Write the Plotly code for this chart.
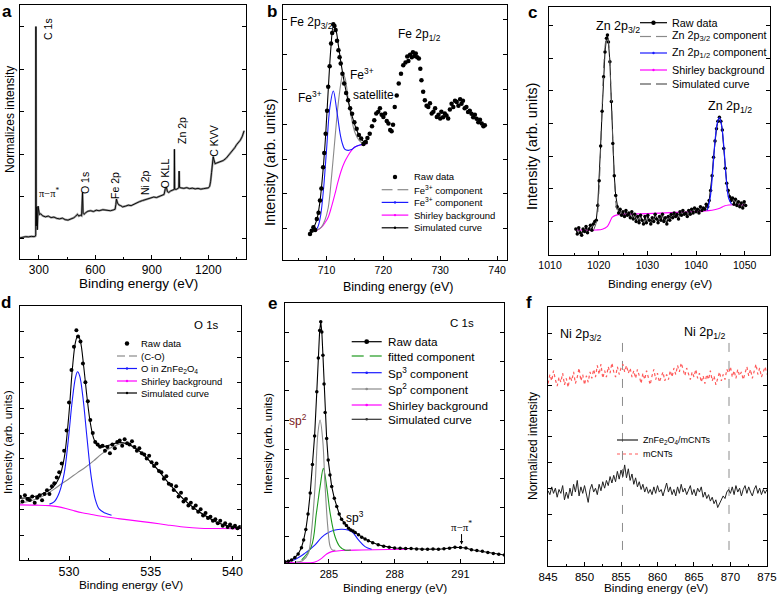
import plotly.graph_objects as go

W, H = 778, 601
FONT = "Liberation Sans, Arial, sans-serif"

# ---------------- (a) survey spectrum ----------------
a_ev = [200, 215, 230, 245, 260, 275, 282, 283.5, 284.5, 286, 289, 292, 296, 299, 303, 310, 320,
        335, 350, 365, 380, 395, 410, 425, 440, 455, 470, 485, 495, 505, 512, 520, 527, 530, 532,
        535, 540, 550, 560, 575, 590, 605, 620, 640, 660, 680, 695, 705, 709, 712, 718, 725, 735,
        745, 760, 775, 790, 805, 820, 835, 850, 865, 880, 895, 910, 925, 940, 955, 965, 972, 977,
        983, 990, 1000, 1010, 1017, 1019, 1020, 1021.5, 1030, 1038, 1043, 1045, 1047, 1055, 1070,
        1085, 1100, 1115, 1130, 1145, 1160, 1175, 1190, 1200, 1207, 1212, 1217, 1222, 1226, 1230,
        1236, 1245, 1255, 1265, 1280, 1295, 1310, 1325, 1340, 1350, 1360, 1370, 1380, 1390]
a_int = [8.3, 8.6, 8.8, 8.7, 8.9, 8.8, 9.0, 9.5, 91.5, 13.0, 20.5, 11.5, 20.8, 19.5, 17.5, 17.8, 17.0,
         16.6, 16.9, 16.3, 16.5, 16.0, 15.8, 16.1, 15.5, 15.3, 15.6, 16.2, 16.8, 17.6, 16.9, 17.2, 17.0,
         22.0, 26.2, 18.0, 17.6, 18.3, 18.8, 19.0, 18.7, 19.2, 19.0, 19.4, 19.1, 19.0, 19.3, 19.6, 21.5,
         23.6, 22.0, 21.3, 21.0, 20.5, 20.8, 21.2, 21.0, 21.6, 22.0, 22.6, 23.0, 23.4, 23.6, 24.2, 24.4,
         24.2, 24.6, 24.9, 25.4, 27.8, 28.3, 26.5, 26.2, 26.8, 27.0, 27.2, 27.4, 43.2, 27.5, 27.4, 27.6,
         28.0, 34.6, 28.2, 28.0, 27.8, 28.1, 27.7, 27.9, 27.6, 27.8, 27.5, 27.7, 27.9, 28.0, 28.6, 30.5,
         34.0, 38.5, 40.3, 39.0, 37.5, 37.8, 38.0, 38.3, 38.8, 39.7, 41.0, 42.3, 43.8, 45.0, 45.8, 46.8,
         48.2, 50.5]

# ---------------- (b) Fe 2p ----------------
b_raw_ev = [707.1, 707.4, 707.7, 708.0, 708.3, 708.6, 708.85, 709.1, 709.4, 709.6, 709.85, 710.1,
            710.3, 710.55, 710.8, 711.0, 711.2, 711.4, 711.6, 711.85, 712.1, 712.3, 712.5, 712.8,
            713.1, 713.45, 713.8, 714.15, 714.5, 714.9, 715.3, 715.7, 716.1, 716.5, 716.9, 717.2,
            717.6, 718.0, 718.4, 718.75, 719.1, 719.4, 719.7, 720.0, 720.3, 720.6, 720.9, 721.2,
            721.45, 721.7, 722.0, 722.35, 722.7, 723.1, 723.5, 723.9, 724.2, 724.4, 724.7, 725.0,
            725.2, 725.5, 725.7, 725.95, 726.25, 726.5, 726.7, 727.0, 727.3, 727.6, 727.9, 728.2,
            728.5, 728.8, 729.1, 729.4, 729.7, 730.0, 730.2, 730.5, 730.8, 731.1, 731.4, 731.7,
            732.0, 732.3, 732.6, 732.9, 733.2, 733.5, 733.75, 734.0, 734.3, 734.6, 734.9, 735.2,
            735.5, 735.8, 736.1, 736.4, 736.7, 737.0, 737.3, 737.6, 737.85]
b_raw_int = [10.2, 11.5, 12.8, 11.8, 16.1, 18.5, 23.3, 28.0, 36.4, 42.0, 49.5, 58.5,
             67.9, 76.0, 84.9, 89.0, 92.5, 91.8, 90.2, 86.0, 82.3, 79.5, 77.1, 73.0,
             69.2, 65.5, 62.6, 59.5, 57.4, 54.0, 51.5, 49.0, 47.6, 45.5, 46.3, 47.8,
             49.5, 52.5, 54.8, 57.5, 58.1, 59.5, 57.0, 56.1, 57.5, 54.5, 53.5, 51.0,
             50.5, 53.0, 60.0, 64.5, 69.2, 73.0, 76.4, 77.5, 79.8, 78.0, 80.5, 79.5,
             81.5, 80.0, 81.0, 79.5, 79.0, 75.0, 70.5, 66.0, 62.6, 60.5, 60.0, 61.5,
             57.5, 58.1, 59.5, 56.1, 57.0, 55.5, 58.1, 56.0, 57.5, 56.7, 55.5, 59.0,
             61.3, 60.0, 62.5, 62.0, 60.5, 63.0, 61.3, 62.5, 59.5, 60.0, 58.0, 58.5,
             57.4, 56.0, 57.0, 55.4, 54.0, 55.0, 53.5, 52.5, 52.8]
b_sim_ev = [707.1, 707.7, 708.3, 708.85, 709.4, 709.85, 710.3, 710.8, 711.2, 711.6, 712.1, 712.5,
            713.1, 713.8, 714.5, 715.3, 716.1, 716.9, 717.2]
b_sim_int = [10.5, 12.5, 15.8, 23.0, 35.5, 49.0, 66.5, 84.0, 91.5, 90.5, 84.0, 78.0,
             70.0, 62.5, 56.5, 51.0, 47.5, 45.8, 45.8]
b_fe3_ev = [707.4, 708.3, 708.85, 709.4, 710.0, 710.6, 711.2, 711.8, 712.4, 712.8, 713.2, 713.8,
            714.4, 715.0, 716.0, 717.0]
b_fe3_int = [11.5, 12.3, 16.0, 26.0, 43.0, 60.0, 66.3, 58.7, 49.5, 45.6, 43.5, 43.0,
             43.3, 44.3, 45.2, 45.6]
b_sat_ev = [707.4, 708.3, 709.1, 709.7, 710.3, 710.9, 711.5, 712.0, 712.5, 712.9, 713.3, 713.8,
            714.4, 715.0, 715.7, 716.4, 717.2]
b_sat_int = [11.5, 11.8, 12.9, 15.5, 20.5, 33.0, 48.0, 60.0, 69.0, 73.1, 71.0, 63.5,
             55.5, 50.0, 47.0, 45.8, 45.6]
b_bg_ev = [707.4, 708.3, 709.1, 709.7, 710.3, 710.9, 711.5, 712.0, 712.6, 713.2, 713.8, 714.4,
           715.0, 715.8, 716.5, 717.2]
b_bg_int = [11.5, 11.7, 12.8, 14.5, 16.8, 21.0, 26.0, 30.5, 35.1, 38.5, 41.0, 43.0,
            44.3, 45.0, 45.4, 45.6]

# ---------------- (c) Zn 2p ----------------
c_raw_ev = [1015.3, 1015.6, 1015.9, 1016.2, 1016.5, 1016.8, 1017.1, 1017.4, 1017.7, 1018.0, 1018.3,
            1018.6, 1018.9, 1019.2, 1019.5, 1019.8, 1020.1, 1020.4, 1020.7, 1021.0, 1021.3, 1021.6,
            1021.8, 1022.0, 1022.3, 1022.6, 1022.9, 1023.2, 1023.5, 1023.8, 1024.1, 1024.4, 1024.7,
            1025.0, 1025.3, 1025.6, 1025.9, 1026.2, 1026.5, 1026.8, 1027.1, 1027.4, 1027.7, 1028.0,
            1028.3, 1028.6, 1028.9, 1029.2, 1029.5, 1029.8, 1030.1, 1030.4, 1030.7, 1031.0, 1031.3,
            1031.6, 1031.9, 1032.2, 1032.5, 1032.8, 1033.1, 1033.4, 1033.7, 1034.0, 1034.3, 1034.6,
            1034.9, 1035.2, 1035.5, 1035.8, 1036.1, 1036.4, 1036.7, 1037.0, 1037.3, 1037.6, 1037.9,
            1038.2, 1038.5, 1038.8, 1039.1, 1039.4, 1039.7, 1040.0, 1040.3, 1040.6, 1040.9, 1041.2,
            1041.5, 1041.8, 1042.1, 1042.4, 1042.7, 1043.0, 1043.3, 1043.6, 1043.9, 1044.2, 1044.5,
            1044.8, 1045.1, 1045.4, 1045.7, 1046.0, 1046.3, 1046.6, 1046.9, 1047.2, 1047.5, 1047.8,
            1048.1, 1048.4, 1048.7, 1049.0, 1049.3, 1049.6, 1049.9, 1050.2]
c_raw_int = [10.5, 8.5, 11.0, 9.0, 8.0, 10.5, 9.5, 11.5, 9.0, 10.5, 12.0,
             10.0, 12.5, 13.5, 14.0, 20.0, 30.0, 44.0, 58.0, 72.0, 82.0, 87.5,
             88.8, 86.0, 78.0, 62.0, 45.0, 32.0, 24.0, 19.5, 17.0, 18.5, 16.0,
             17.5, 15.5, 18.0, 16.0, 17.0, 15.0, 17.5, 14.5, 16.5, 13.5, 15.5,
             13.0, 16.0, 14.0, 12.5, 15.5, 13.0, 16.0, 14.0, 12.5, 15.0, 13.5,
             16.5, 14.5, 13.0, 15.5, 14.0, 16.5, 13.5, 15.0, 12.5, 15.5, 14.0,
             16.5, 15.0, 17.0, 15.5, 16.5, 14.5, 17.5, 16.0, 18.0, 16.5, 17.0,
             15.5, 18.0, 16.5, 18.5, 17.0, 19.0, 17.5, 18.5, 17.0, 19.5, 18.0,
             19.0, 18.5, 20.5, 19.5, 22.0, 26.0, 32.0, 39.5, 46.0, 51.0, 54.0,
             55.6, 54.0, 50.5, 43.0, 35.0, 29.0, 26.0, 23.5, 22.0, 23.0, 20.5,
             22.5, 20.0, 21.5, 19.5, 21.0, 19.0, 21.5, 20.0]
c_p32_ev = [1019.0, 1019.6, 1020.1, 1020.6, 1021.1, 1021.5, 1021.8, 1022.1, 1022.5, 1022.9, 1023.3,
            1023.8, 1024.4]
c_p32_int = [10.3, 14.0, 28.0, 54.0, 78.0, 87.0, 88.5, 84.0, 68.0, 46.0, 28.0, 18.0, 16.0]
c_p12_ev = [1042.3, 1042.9, 1043.4, 1043.9, 1044.4, 1044.8, 1045.2, 1045.7, 1046.2, 1046.7, 1047.3]
c_p12_int = [18.0, 23.0, 33.0, 46.0, 53.5, 55.5, 53.0, 44.0, 31.0, 23.0, 20.5]
c_bg_ev = [1015.3, 1019.5, 1020.75, 1021.8, 1022.4, 1022.8, 1023.8, 1030.0, 1036.0, 1042.6, 1044.0,
           1045.0, 1045.8, 1046.7, 1050.1]
c_bg_int = [10.1, 10.1, 10.4, 11.6, 13.8, 15.3, 16.2, 16.7, 17.2, 17.9, 18.4, 19.0, 19.8, 20.2, 20.2]

# ---------------- (d) O 1s ----------------
d_raw_ev = [527.0, 527.15, 527.3, 527.45, 527.6, 527.75, 527.9, 528.05, 528.2, 528.35, 528.5, 528.65,
            528.8, 528.95, 529.1, 529.25, 529.4, 529.55, 529.7, 529.85, 530.0, 530.15, 530.3, 530.45,
            530.55, 530.7, 530.85, 531.0, 531.15, 531.3, 531.45, 531.6, 531.75, 531.9, 532.05, 532.2,
            532.35, 532.5, 532.65, 532.8, 532.95, 533.1, 533.25, 533.4, 533.55, 533.7, 533.85, 534.0,
            534.15, 534.3, 534.45, 534.6, 534.75, 534.9, 535.05, 535.2, 535.35, 535.5, 535.65, 535.8,
            535.95, 536.1, 536.25, 536.4, 536.55, 536.7, 536.85, 537.0, 537.15, 537.3, 537.45, 537.6,
            537.75, 537.9, 538.05, 538.2, 538.35, 538.5, 538.65, 538.8, 538.95, 539.1, 539.25, 539.4,
            539.55, 539.7, 539.85, 540.0, 540.15, 540.3, 540.45]
d_raw_int = [24.9, 23.0, 25.5, 24.0, 23.6, 25.0, 22.5, 24.5, 25.5, 23.5, 26.0, 27.5,
             26.0, 29.0, 30.2, 32.5, 34.5, 38.0, 43.0, 51.0, 62.0, 74.8, 84.0, 90.5,
             88.0, 86.0, 77.4, 70.0, 62.5, 55.1, 50.0, 46.5, 45.5, 44.6, 45.0, 43.0,
             44.5, 42.0, 45.5, 44.0, 46.5, 47.0, 45.0, 47.5, 46.0, 45.5, 46.8, 44.5,
             43.0, 44.0, 42.0, 41.5, 40.0, 41.0, 38.5, 37.0, 38.0, 35.0, 34.5, 32.0,
             33.0, 30.0, 29.5, 27.6, 29.0, 25.0, 26.5, 23.0, 24.0, 21.5, 22.5, 20.5,
             21.5, 19.0, 20.0, 17.5, 18.5, 16.5, 17.0, 15.5, 16.0, 14.5, 15.5, 13.5,
             14.5, 13.0, 14.0, 12.8, 13.5, 12.5, 13.0]
d_sim_ev = [527.0, 527.5, 528.0, 528.5, 529.0, 529.4, 529.7, 530.0, 530.2, 530.4, 530.55, 530.7,
            530.9, 531.1, 531.3, 531.5, 531.7, 531.9, 532.1, 532.5, 533.0, 533.5, 534.0, 534.5,
            535.0, 535.5, 536.0, 536.5, 537.0, 537.5, 538.0, 538.5, 539.0, 539.5, 540.0, 540.5]
d_sim_int = [24.3, 24.6, 25.2, 26.5, 28.5, 32.5, 40.0, 58.0, 75.0, 86.0, 88.5, 86.0,
             76.0, 64.0, 54.0, 48.0, 45.3, 44.5, 44.6, 45.3, 46.2, 45.9, 44.3, 41.8,
             38.5, 35.0, 31.0, 27.3, 24.0, 21.2, 18.8, 16.8, 15.0, 13.8, 13.0, 12.6]
d_co_ev = [527.0, 527.5, 528.0, 528.5, 529.0, 529.5, 530.0, 530.5, 531.0, 531.5, 532.0, 532.5,
           533.0, 533.3, 533.6, 534.0, 534.5, 535.0, 535.5, 536.0, 536.5, 537.0, 537.5, 538.0,
           538.5, 539.0, 539.5, 540.0, 540.5]
d_co_int = [22.3, 23.0, 24.0, 25.5, 27.5, 29.8, 32.0, 34.3, 36.5, 39.0, 41.8, 44.0,
            45.5, 45.9, 45.6, 44.3, 41.8, 38.5, 35.0, 31.0, 27.3, 24.0, 21.2, 18.8,
            16.8, 15.0, 13.8, 13.0, 12.6]
d_ozn_ev = [528.8, 529.1, 529.4, 529.7, 529.95, 530.2, 530.4, 530.52, 530.65, 530.85, 531.1, 531.35,
            531.6, 531.85, 532.2, 532.6]
d_ozn_int = [22.0, 23.0, 26.5, 34.0, 47.0, 63.0, 72.0, 74.1, 72.5, 64.0, 48.0, 33.0,
             24.0, 20.0, 18.5, 17.6]
d_bg_ev = [527.0, 528.0, 528.8, 529.3, 529.8, 530.3, 530.8, 531.3, 532.0, 533.0, 534.0, 535.0,
           536.0, 537.0, 538.0, 539.0, 540.5]
d_bg_int = [21.7, 21.6, 21.4, 21.0, 20.3, 19.4, 18.6, 18.0, 17.2, 16.3, 15.5, 14.7,
            13.8, 13.0, 12.5, 12.4, 12.3]

# ---------------- (e) C 1s ----------------
e_raw_ev = [283.0, 283.15, 283.3, 283.45, 283.6, 283.75, 283.85, 283.95, 284.05, 284.15, 284.25,
            284.35, 284.45, 284.52, 284.58, 284.63, 284.68, 284.73, 284.78, 284.83, 284.9, 284.97,
            285.05, 285.13, 285.25, 285.36, 285.47, 285.58, 285.7, 285.8, 285.9, 286.0, 286.1,
            286.2, 286.35, 286.5, 286.65, 286.8, 287.0, 287.25, 287.5, 287.75, 288.0, 288.25, 288.5,
            288.75, 289.0, 289.25, 289.5, 289.75, 290.0, 290.25, 290.5, 290.75, 291.0, 291.25,
            291.5, 291.75, 292.0, 292.25, 292.5, 292.75, 293.0]
e_raw_int = [0.6, 0.8, 1.3, 2.2, 3.6, 6.0, 9.0, 13.0, 19.0, 27.0, 38.0,
             49.0, 66.0, 79.0, 89.5, 92.9, 89.0, 80.0, 69.0, 58.0, 48.0, 39.7,
             34.0, 29.5, 25.0, 21.8, 19.0, 16.9, 15.5, 14.5, 13.5, 12.8, 12.4,
             11.8, 11.0, 10.0, 9.3, 8.7, 7.9, 7.1, 6.6, 6.2, 5.9, 5.8, 5.7,
             5.7, 5.5, 5.4, 5.4, 5.5, 5.4, 5.6, 5.8, 6.2, 6.1, 5.9,
             5.2, 4.9, 4.6, 4.2, 3.8, 3.5, 3.2]
e_sp2_ev = [283.5, 283.8, 284.06, 284.2, 284.37, 284.5, 284.6, 284.72, 284.83, 284.95, 285.06,
            285.16, 285.3]
e_sp2_int = [0.5, 1.0, 3.8, 11.5, 29.5, 50.0, 55.1, 47.4, 29.5, 14.1, 6.4, 5.1, 5.0]
e_fit_ev = [283.76, 284.2, 284.43, 284.6, 284.75, 284.9, 285.06, 285.28, 285.5, 285.73, 286.0]
e_fit_int = [1.3, 6.4, 19.2, 29.5, 36.5, 29.5, 19.2, 10.3, 6.4, 5.1, 5.1]
e_sp3_ev = [283.0, 283.46, 283.9, 284.37, 284.67, 284.9, 285.28, 285.61, 286.04, 286.35, 286.65,
            286.95]
e_sp3_int = [0.6, 1.5, 3.8, 7.1, 10.0, 11.5, 12.8, 13.1, 12.2, 9.0, 6.4, 5.4]
e_bg_ev = [283.0, 284.37, 284.67, 284.9, 285.13, 285.58, 286.5, 287.7, 288.6]
e_bg_int = [0.4, 0.5, 1.9, 3.6, 4.5, 4.9, 5.1, 5.3, 5.4]

# ---------------- (f) Ni 2p ----------------
f_ev = [845.0, 845.25, 845.5, 845.75, 846.0, 846.25, 846.5, 846.75, 847.0, 847.25, 847.5, 847.75,
        848.0, 848.25, 848.5, 848.75, 849.0, 849.25, 849.5, 849.75, 850.0, 850.25, 850.5, 850.75,
        851.0, 851.25, 851.5, 851.75, 852.0, 852.25, 852.5, 852.75, 853.0, 853.25, 853.5, 853.75,
        854.0, 854.25, 854.5, 854.75, 855.0, 855.25, 855.5, 855.75, 856.0, 856.25, 856.5, 856.75,
        857.0, 857.25, 857.5, 857.75, 858.0, 858.25, 858.5, 858.75, 859.0, 859.25, 859.5, 859.75,
        860.0, 860.25, 860.5, 860.75, 861.0, 861.25, 861.5, 861.75, 862.0, 862.25, 862.5, 862.75,
        863.0, 863.25, 863.5, 863.75, 864.0, 864.25, 864.5, 864.75, 865.0, 865.25, 865.5, 865.75,
        866.0, 866.25, 866.5, 866.75, 867.0, 867.25, 867.5, 867.75, 868.0, 868.25, 868.5, 868.75,
        869.0, 869.25, 869.5, 869.75, 870.0, 870.25, 870.5, 870.75, 871.0, 871.25, 871.5, 871.75,
        872.0, 872.25, 872.5, 872.75, 873.0, 873.25, 873.5, 873.75, 874.0, 874.25, 874.5, 874.75,
        875.0]
f_composite = [29.0, 27.5, 30.5, 28.0, 30.0, 26.5, 29.5, 28.0, 31.0, 25.5, 28.5, 26.0,
               30.0, 27.0, 31.5, 28.5, 33.0, 27.0, 30.5, 28.0, 31.0, 27.5, 24.5, 29.5,
               31.5, 28.5, 30.0, 27.5, 31.5, 29.0, 32.5, 30.0, 33.0, 31.0, 34.5, 32.0,
               35.0, 32.5, 36.5, 33.5, 37.0, 34.5, 39.0, 34.0, 37.5, 33.0, 35.5, 31.5,
               34.0, 30.5, 32.5, 29.5, 31.5, 28.5, 30.5, 28.0, 29.5, 27.5, 30.5, 28.0,
               31.0, 28.5, 29.5, 27.0, 30.0, 32.0, 28.5, 30.5, 27.5, 29.5, 27.0, 30.5,
               28.0, 31.5, 28.5, 30.0, 27.5, 29.0, 31.0, 27.5, 29.5, 27.0, 30.0, 28.5,
               30.5, 26.5, 28.5, 26.0, 27.5, 25.0, 26.5, 24.0, 25.5, 22.5, 24.0, 25.5,
               27.0, 26.0, 28.5, 29.5, 28.0, 30.5, 27.5, 31.0, 28.5, 30.0, 27.0, 29.5,
               31.0, 28.0, 30.5, 28.5, 27.0, 29.5, 31.0, 28.0, 30.0, 27.5, 29.5, 28.0,
               29.5]
f_mcnt = [70.5, 74.0, 71.5, 75.5, 72.0, 69.5, 73.0, 71.0, 74.5, 70.0, 72.5, 69.0,
          73.5, 71.5, 75.0, 70.5, 73.0, 76.5, 71.5, 74.0, 70.0, 73.5, 71.0, 75.0,
          72.5, 76.0, 73.0, 77.5, 74.0, 78.0, 72.5, 75.5, 73.0, 77.0, 74.5, 78.5,
          75.0, 73.0, 77.0, 74.0, 76.5, 78.0, 75.0, 77.5, 74.5, 76.5, 73.0, 75.5,
          72.5, 76.0, 73.5, 70.5, 74.5, 72.0, 75.5, 72.5, 70.0, 73.5, 76.0, 72.0,
          74.5, 71.0, 73.5, 75.0, 71.5, 74.0, 72.0, 75.5, 73.0, 76.5, 74.0, 77.5,
          75.0, 78.5, 76.0, 73.5, 76.5, 74.0, 72.0, 75.0, 73.0, 76.0, 72.5, 74.5,
          71.0, 73.5, 70.5, 74.0, 72.0, 75.5, 71.5, 73.5, 70.0, 72.5, 75.0, 71.5,
          74.0, 72.0, 76.0, 74.5, 77.0, 73.0, 75.5, 72.5, 76.0, 73.5, 75.0, 72.0,
          74.5, 77.0, 73.5, 76.0, 72.5, 75.5, 78.0, 74.0, 76.5, 73.0, 75.5, 77.0,
          74.0]
f_ref_ev = [855.2, 869.8]
f_ref_low, f_ref_high = 6.1, 86.7

GRAY = "#8a8a8a"
BLUE = "#1a1aff"
MAGENTA = "#ff00ff"
GREEN = "#1e9a1e"
RED = "#ff5a5a"

fig = go.Figure()

# panel frames in pixels: left, top, right, bottom
boxes = {1: (20, 5, 246, 259), 2: (283.3, 5, 507.3, 260), 3: (549.3, 7.3, 770, 255),
         4: (20, 306, 240.7, 560), 5: (285, 303.3, 504.3, 563.3), 6: (547.7, 307.3, 767.3, 565.7)}


def sfx(n):
    return "" if n == 1 else str(n)


def setup_axes(n, xr, xd, xm, ytick0, ydtick, tfs):
    l, t, r, b = boxes[n]
    s = sfx(n)
    xa = dict(domain=[l / W, r / W], range=xr, anchor="y" + s, showline=True, mirror=True,
              linecolor="black", linewidth=1, showgrid=False, zeroline=False,
              ticks="inside", ticklen=4, tickcolor="black", tick0=0, dtick=xd,
              minor=dict(ticks="inside", ticklen=2, tick0=0, dtick=xm, tickcolor="black"),
              tickfont=dict(family=FONT, size=tfs, color="black"), automargin=False)
    ya = dict(domain=[1 - b / H, 1 - t / H], range=[0, 100], anchor="x" + s, showline=True,
              mirror="ticks", linecolor="black", linewidth=1, showgrid=False, zeroline=False,
              ticks="inside", ticklen=4, tickcolor="black", tick0=ytick0, dtick=ydtick,
              showticklabels=False, automargin=False)
    fig.update_layout({"xaxis" + s: xa, "yaxis" + s: ya})


setup_axes(1, [200, 1400], 300, 150, 7.9, 16.7, 12)
setup_axes(2, [702.4, 741.8], 10, 5, 12.2, 13.7, 10.5)
setup_axes(3, [1009.85, 1055.2], 10, 5, 13.5, 13.2, 10.5)
setup_axes(4, [527, 540.5], 5, 2.5, 9.8, 10, 12.5)
setup_axes(5, [283, 293], 3, 1.5, 10.3, 11.2, 11)
setup_axes(6, [844.95, 875.05], 5, 2.5, 9.9, 10, 11.5)


def add(n, x, y, color, width=1.1, dash=None, mode="lines", msize=4, shape="linear"):
    s = sfx(n)
    fig.add_trace(go.Scatter(x=x, y=y, xaxis="x" + s, yaxis="y" + s, mode=mode,
                             line=dict(color=color, width=width, dash=dash, shape=shape),
                             marker=dict(color=color, size=msize), showlegend=False,
                             hoverinfo="skip"))


# (a)
add(1, a_ev, a_int, "#9a9a9a", width=2.2)
add(1, a_ev, a_int, "black", width=0.9)
# (b)
add(2, b_bg_ev, b_bg_int, MAGENTA, shape="spline")
add(2, b_sat_ev, b_sat_int, GRAY, shape="spline")
add(2, b_fe3_ev, b_fe3_int, BLUE, shape="spline")
add(2, b_sim_ev, b_sim_int, "black", shape="spline")
add(2, b_raw_ev, b_raw_int, "black", mode="markers", msize=4.5)
# (c)
add(3, c_bg_ev, c_bg_int, MAGENTA, shape="spline")
add(3, c_raw_ev, c_raw_int, "black", mode="lines+markers", msize=3.5, width=1)
add(3, c_p32_ev, c_p32_int, "#555555", dash="dash", shape="spline", width=1)
add(3, c_p12_ev, c_p12_int, BLUE, shape="spline", width=1.2)
# (d)
add(4, d_bg_ev, d_bg_int, MAGENTA, shape="spline")
add(4, d_co_ev, d_co_int, GRAY, shape="spline")
add(4, d_ozn_ev, d_ozn_int, BLUE, shape="spline")
add(4, d_sim_ev, d_sim_int, "black", shape="spline")
add(4, d_raw_ev, d_raw_int, "black", mode="markers", msize=4)
# (e)
add(5, e_bg_ev, e_bg_int, MAGENTA, shape="spline")
add(5, e_sp3_ev, e_sp3_int, BLUE, shape="spline")
add(5, e_fit_ev, e_fit_int, GREEN, shape="spline")
add(5, e_sp2_ev, e_sp2_int, GRAY, shape="spline")
add(5, e_raw_ev, e_raw_int, "black", mode="lines+markers", msize=3.5, width=1.1)
# (f)
for ev in f_ref_ev:
    add(6, [ev, ev], [f_ref_low, f_ref_high], "#8c8c8c", dash="dash", width=1)
add(6, f_ev, f_mcnt, RED, dash="dot", width=1.2)
add(6, f_ev, f_composite, "#222222", width=1)

ann = []
shapes = []


def px(x):
    return x / W


def py(y):
    return 1 - y / H


def text(x, y, t, size, angle=0, bold=False, color="black", family=FONT, xanchor="center",
         yanchor="middle"):
    if bold:
        t = "<b>" + t + "</b>"
    ann.append(dict(x=px(x), y=py(y), xref="paper", yref="paper", text=t, showarrow=False,
                    textangle=angle, xanchor=xanchor, yanchor=yanchor,
                    font=dict(family=family, size=size, color=color)))


def dtext(n, x, y, t, size, angle=0, color="black", family=FONT):
    s = sfx(n)
    ann.append(dict(x=x, y=y, xref="x" + s, yref="y" + s, text=t, showarrow=False,
                    textangle=angle, xanchor="center", yanchor="middle",
                    font=dict(family=family, size=size, color=color)))


# panel letters
for lab, (x, y) in zip("abcdef", [(7, 0), (272, 0), (532, 1), (6, 291), (272, 292), (529, 291)]):
    text(x, y, lab, 17, bold=True, yanchor="top")

# axis titles
for x, y, sz in [(138, 283.3, 13.5), (398, 287, 12.5), (660, 284, 11.8),
                 (130.5, 585, 11.8), (394.5, 587.7, 11.8), (656.3, 587.7, 11.8)]:
    text(x, y, "Binding energy (eV)", sz)
text(10, 120, "Normalizes intensity", 12, angle=-90)
text(270, 163, "Intensity (arb. units)", 14.5, angle=-90)
text(532, 147, "Intensity (arb. units)", 14.5, angle=-90)
text(8, 442, "Intensity (arb. units)", 11.8, angle=-90)
text(268, 444, "Intensity (arb. units)", 11.5, angle=-90)
text(533, 446, "Normalized intensity", 12, angle=-90)

# (a) peak labels
for t, x, y in [("C 1s", 349, 90.6), ("O 1s", 545, 29.9), ("Fe 2p", 704, 29.1), ("Ni 2p", 864, 29.9),
                ("O KLL", 968, 33.5), ("Zn 2p", 1060, 50.8), ("C KVV", 1230, 46.5)]:
    dtext(1, x, y, t, 10.5, angle=-90)
dtext(1, 354, 26, "π−π<sup>*</sup>", 10.5, family="Liberation Serif, Times New Roman, serif")

# (b)
dtext(2, 707.3, 93, "Fe 2p<sub>3/2</sub>", 12)
dtext(2, 726.4, 88.2, "Fe 2p<sub>1/2</sub>", 12)
dtext(2, 707.1, 64, "Fe<sup>3+</sup>", 12)
dtext(2, 716.3, 73.1, "Fe<sup>3+</sup>", 12)
dtext(2, 718.3, 64.6, "satellite", 12)
# (c)
dtext(3, 1023.9, 91.9, "Zn 2p<sub>3/2</sub>", 12.5)
dtext(3, 1046.9, 59.9, "Zn 2p<sub>1/2</sub>", 12.5)
# (d)
dtext(4, 538.4, 92.5, "O 1s", 11.5)
# (e)
dtext(5, 291.07, 92.3, "C 1s", 11.5)
dtext(5, 283.6, 55.1, "sp<sup>2</sup>", 12, color="#7a1a1a")
dtext(5, 286.2, 17.9, "sp<sup>3</sup>", 12)
ann.append(dict(x=291.05, y=7.2, xref="x5", yref="y5", text="π−π<sup>*</sup>", showarrow=True,
                ax=0, ay=-19, arrowhead=2, arrowsize=0.7, arrowwidth=1, arrowcolor="black",
                font=dict(family="Liberation Serif, Times New Roman, serif", size=11, color="black")))
# (f)
dtext(6, 849.4, 89.3, "Ni 2p<sub>3/2</sub>", 12.5)
dtext(6, 866.4, 89.9, "Ni 2p<sub>1/2</sub>", 12.5)


def legend_row(x0, x1, y, label, color, size, tx, line=True, dot=True, gap=0, dot_r=1.6,
               dash=None):
    xm = (x0 + x1) / 2
    if line:
        segs = [(x0, xm - gap), (xm + gap, x1)] if gap else [(x0, x1)]
        for a, b in segs:
            shapes.append(dict(type="line", xref="paper", yref="paper", x0=px(a), x1=px(b),
                               y0=py(y), y1=py(y), line=dict(color=color, width=1.2, dash=dash)))
    if dot:
        shapes.append(dict(type="circle", xref="paper", yref="paper", x0=px(xm - dot_r),
                           x1=px(xm + dot_r), y0=py(y + dot_r), y1=py(y - dot_r),
                           fillcolor=color, line=dict(width=0)))
    text(tx, y, label, size, xanchor="left")


# legend (b)
for i, (lab, col, ln, dt, gp) in enumerate([
        ("Raw data", "black", False, True, 0),
        ("Fe<sup>3+</sup> component", GRAY, True, False, 2.5),
        ("Fe<sup>3+</sup> component", BLUE, True, True, 0),
        ("Shirley background", MAGENTA, True, True, 0),
        ("Simulated curve", "black", True, True, 0)]):
    legend_row(381.7, 408.3, 177 + 12.7 * i, lab, col, 9.5, 411.7, line=ln, dot=dt, gap=gp,
               dot_r=2.2 if not ln else 1.2)
# legend (c)
for y, lab, col, dt, gp in [(22.7, "Raw data", "black", True, 0),
                            (36.5, "Zn 2p<sub>3/2</sub> component", GRAY, False, 2.5),
                            (53, "Zn 2p<sub>1/2</sub> component", BLUE, True, 0),
                            (70, "Shirley background", MAGENTA, True, 0),
                            (84, "Simulated curve", "#555555", False, 2.5)]:
    legend_row(640, 667, y, lab, col, 10.8, 670, dot=dt, gap=gp, dot_r=2.2 if col == "black" else 1.2)
# legend (d)
for y, lab, col, ln, dt, gp in [(343.5, "Raw data", "black", False, True, 0),
                                (356, "(C-O)", GRAY, True, False, 2),
                                (368.5, "O in ZnFe<sub>2</sub>O<sub>4</sub>", BLUE, True, True, 0),
                                (381, "Shirley background", MAGENTA, True, True, 0),
                                (393, "Simulated curve", "black", True, True, 0)]:
    legend_row(117, 137, y, lab, col, 9.5, 139, line=ln, dot=dt, gap=gp,
               dot_r=2.2 if not ln else 1.2)
# legend (e)
for y, lab, col, dt, gp in [(341.7, "Raw data", "black", True, 0),
                            (356, "fitted component", GREEN, False, 3),
                            (372.7, "Sp<sup>3</sup> component", BLUE, True, 0),
                            (389, "Sp<sup>2</sup> component", GRAY, True, 0),
                            (405, "Shirley background", MAGENTA, True, 0),
                            (419.3, "Simulated curve", "#333333", True, 0)]:
    legend_row(351.7, 381.7, y, lab, col, 11.7, 385.7, dot=dt, gap=gp,
               dot_r=2.4 if lab == "Raw data" else 1.3)
# legend (f)
legend_row(617, 638, 440, "ZnFe<sub>2</sub>O<sub>4</sub>/mCNTs", "#222222", 9, 641, dot=False)
legend_row(617, 638, 454, "mCNTs", RED, 9, 641, dot=False, dash="dot")

fig.update_layout(width=W, height=H, margin=dict(l=0, r=0, t=0, b=0),
                  paper_bgcolor="white", plot_bgcolor="white", showlegend=False,
                  annotations=ann, shapes=shapes, font=dict(family=FONT, color="black"))

# the page's default body margin would shift the figure by 8 px
fig.write_html("out.html", config={"displayModeBar": False},
               post_script="document.body.style.margin='0px';")
